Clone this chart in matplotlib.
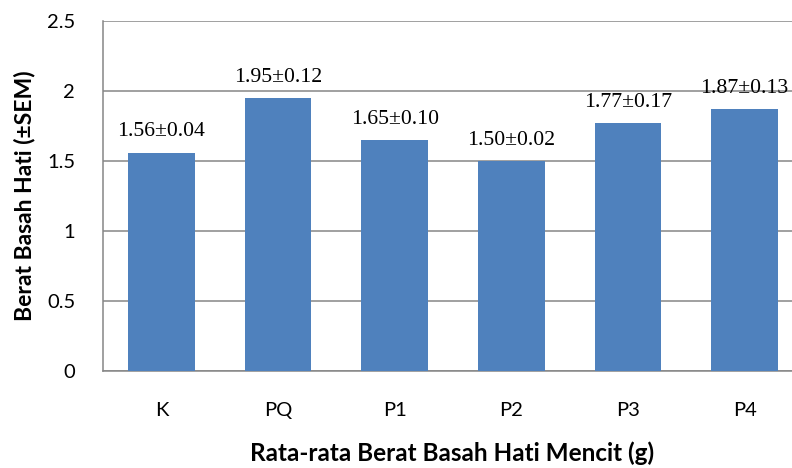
import matplotlib
matplotlib.use("Agg")
import matplotlib.pyplot as plt

# data
groups = ["K", "PQ", "P1", "P2", "P3", "P4"]
means = [1.56, 1.95, 1.65, 1.50, 1.77, 1.87]
sems = [0.04, 0.12, 0.10, 0.02, 0.17, 0.13]
yticks = [0, 0.5, 1, 1.5, 2, 2.5]

bar_color = "#4F81BD"
grid_color = "#868686"

fig = plt.figure(figsize=(7.92, 4.68), dpi=100)
# plot area runs off the right edge like the original
ax = fig.add_axes([103 / 792, 1 - 371 / 468, 700 / 792, 350 / 468])

x = range(len(groups))
ax.bar(x, means, width=0.57, color=bar_color, zorder=3)

ax.set_xlim(-0.5, len(groups) - 0.5)
ax.set_ylim(0, 2.5)
ax.set_yticks(yticks)
ax.set_yticklabels([f"{t:g}" for t in yticks], family="Lato", fontsize=14.5)
ax.set_xticks(list(x))
ax.set_xticklabels(groups, family="Lato", fontsize=14.5)
ax.tick_params(length=0)
ax.tick_params(axis="x", pad=22)
ax.tick_params(axis="y", pad=20)

ax.yaxis.grid(True, color=grid_color, linewidth=1.1, zorder=0)
for side in ["top", "right"]:
    ax.spines[side].set_visible(False)
for side in ["left", "bottom"]:
    ax.spines[side].set_color(grid_color)
    ax.spines[side].set_linewidth(1.1)

# value labels
for i, (m, s) in enumerate(zip(means, sems)):
    ax.annotate(f"{m:.2f}\u00b1{s:.2f}", (i, m), xytext=(0, 8),
                textcoords="offset points", ha="center", va="bottom",
                family="Liberation Serif", fontsize=15.7)

fig.text(452 / 792, 1 - 453 / 468, "Rata-rata Berat Basah Hati Mencit (g)",
         ha="center", va="center", family="Lato", fontweight="bold",
         fontsize=17.5)
fig.text(25 / 792, 1 - 196 / 468, "Berat Basah Hati (\u00b1SEM)",
         ha="center", va="center", rotation=90, family="Lato",
         fontweight="bold", fontsize=16.5)

plt.savefig("out.png", dpi=100)
